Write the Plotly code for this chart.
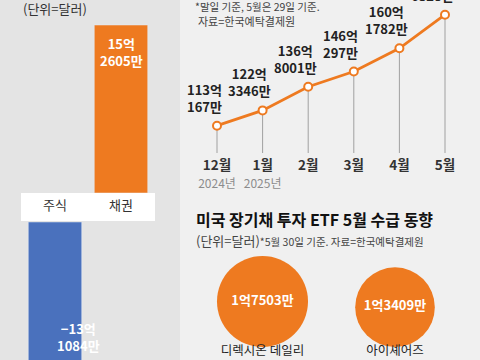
import numpy as np
import plotly.graph_objects as go

# ---------------- data ----------------
flow_cats = ["주식", "채권"]
flow_vals = [-13.1084, 15.2605]            # 억 달러
flow_labels = ["−13억<br>1084만", "15억<br>2605만"]

months = ["12월", "1월", "2월", "3월", "4월", "5월"]
years = ["2024년", "2025년", "", "", "", ""]
holdings = [113.0167, 122.3346, 136.8001, 146.0297, 160.1782, 180.6328]   # 억 달러
holding_labels = ["113억<br>167만", "122억<br>3346만", "136억<br>8001만",
                  "146억<br>297만", "160억<br>1782만", "180억<br>6328만"]

etf_names = ["디렉시온 데일리", "아이셰어즈"]
etf_vals = [1.7503, 1.3409]                 # 억 달러
etf_labels = ["1억7503만", "1억3409만"]

# ---------------- style ----------------
W, H = 480, 360
ORANGE = "#ee7a20"
BLUE = "#4a71bd"
FONT = "Noto Sans CJK KR"
LEFT_BG = "#e4e4e4"
RIGHT_BG = "#f0f0f0"

def fx(p):
    return p / W

def fy(p):
    return 1 - p / H

fig = go.Figure()

# ---- left: bar chart split around the label box ----
bar_scale = 168 / 15.2605
cat_px = 66.0
x_left_range = [-55 / cat_px, (180 - 55) / cat_px]

fig.add_trace(go.Bar(x=[flow_cats[1]], y=[flow_vals[1]], marker_color=ORANGE,
                     width=0.81, xaxis="x", yaxis="y", hoverinfo="skip"))
fig.add_trace(go.Bar(x=[flow_cats[0]], y=[flow_vals[0]], marker_color=BLUE,
                     width=0.81, xaxis="x2", yaxis="y2", hoverinfo="skip"))

# ---- right top: line chart ----
k = 1.641
anchor_v, anchor_px = holdings[0], 125.7
y3_min = anchor_v - (153 - anchor_px) / k
y3_max = anchor_v + anchor_px / k
mpx = 45.6
x3_range = [(180 - 217) / mpx, (480 - 217) / mpx]

fig.add_trace(go.Scatter(
    x=months, y=holdings, mode="lines+markers", xaxis="x3", yaxis="y3",
    line=dict(color=ORANGE, width=2.8),
    marker=dict(symbol="circle", size=8, color="white", line=dict(color=ORANGE, width=2)),
    error_y=dict(type="data", symmetric=False, array=[0] * len(holdings),
                 arrayminus=[v - y3_min for v in holdings],
                 color="#a0a0a0", thickness=1, width=0),
    cliponaxis=False, hoverinfo="skip"))

# ---- right bottom: bubbles ----
D_max = 91
radii = [D_max / 2 * np.sqrt(v / max(etf_vals)) for v in etf_vals]
sizeref = 2 * max(etf_vals) / D_max ** 2
cpx = 132.5
x4_range = [-(262.5 - 180) / cpx, (480 - 262.5) / cpx]
c_bottom = 341
y4_h = c_bottom - 250
fig.add_trace(go.Scatter(
    x=etf_names, y=[r - (347 - c_bottom) for r in radii], mode="markers+text", xaxis="x4", yaxis="y4",
    marker=dict(size=etf_vals, sizemode="area", sizeref=sizeref, color=ORANGE,
                opacity=1, line=dict(width=0)),
    text=etf_labels, textposition="middle center",
    textfont=dict(family=FONT, size=13, color="white", weight=700),
    cliponaxis=False, hoverinfo="skip"))

hidden = dict(showgrid=False, zeroline=False, showline=False, showticklabels=False, ticks="", fixedrange=True)

fig.update_layout(
    width=W, height=H, autosize=False,
    margin=dict(l=0, r=0, t=0, b=0),
    paper_bgcolor=RIGHT_BG, plot_bgcolor="rgba(0,0,0,0)",
    showlegend=False, barmode="overlay", hovermode=False,
    font=dict(family=FONT, color="#333"),
    xaxis=dict(domain=[0, fx(180)], range=x_left_range, type="category",
               categoryorder="array", categoryarray=flow_cats,
               showgrid=False, zeroline=False, showline=False, ticks="",
               showticklabels=True, tickfont=dict(family=FONT, size=13, color="#333"),
               ticklabelstandoff=3, anchor="y"),
    yaxis=dict(domain=[fy(193), 1], range=[0, 193 / bar_scale], anchor="x", **hidden),
    xaxis2=dict(domain=[0, fx(180)], range=x_left_range, type="category",
                categoryorder="array", categoryarray=flow_cats, anchor="y2", **hidden),
    yaxis2=dict(domain=[0, fy(222)], range=[-(H - 222) / bar_scale, 0], anchor="x2", **hidden),
    xaxis3=dict(domain=[fx(180), 1], range=x3_range, type="category", anchor="y3",
                showgrid=False, zeroline=False, showline=False, ticks="",
                tickmode="array", tickvals=months,
                ticktext=[f"<span style='font-size:13.5px'><b>{m}</b></span>"
                          + (f"<br><span style='font-size:12px;color:#8c8c8c'>{y}</span>" if y else "")
                          for m, y in zip(months, years)],
                tickfont=dict(family=FONT, size=14.5, color="#333"), ticklabelstandoff=1),
    yaxis3=dict(domain=[fy(153), 1], range=[y3_min, y3_max], anchor="x3", **hidden),
    xaxis4=dict(domain=[fx(180), 1], range=x4_range, type="category", anchor="y4",
                showgrid=False, zeroline=False, showline=False, ticks="",
                tickfont=dict(family=FONT, size=12.5, color="#222"), ticklabelstandoff=0),
    yaxis4=dict(domain=[fy(c_bottom), fy(250)], range=[0, y4_h], anchor="x4", **hidden),
)

fig.add_shape(type="rect", xref="paper", yref="paper", x0=0, x1=fx(180), y0=0, y1=1,
              fillcolor=LEFT_BG, line_width=0, layer="below")
fig.add_shape(type="rect", xref="paper", yref="paper", x0=fx(21), x1=fx(155), y0=fy(221), y1=fy(193),
              fillcolor="white", line_width=0, layer="below")

ann = []
ann.append(dict(x=flow_cats[1], y=flow_vals[1], xref="x", yref="y", text=flow_labels[1],
                showarrow=False, yanchor="top", yshift=-7,
                font=dict(family=FONT, size=13, color="white", weight=700)))
ann.append(dict(x=fx(55), y=fy(337), xref="paper", yref="paper", text=flow_labels[0],
                showarrow=False, yanchor="middle",
                font=dict(family=FONT, size=13, color="white", weight=700)))
for m, v, t in zip(months, holdings, holding_labels):
    ann.append(dict(x=m, y=v, xref="x3", yref="y3", text=t, showarrow=False,
                    xanchor="center", yanchor="bottom", xshift=-13, yshift=8,
                    font=dict(family=FONT, size=13, color="#222", weight=700)))
ann.append(dict(x=fx(21), y=fy(8), xref="paper", yref="paper", text="(단위=달러)",
                showarrow=False, xanchor="left", yanchor="middle",
                font=dict(family=FONT, size=13, color="#333")))
ann.append(dict(x=fx(193), y=fy(6), xref="paper", yref="paper", text="*말일 기준, 5월은 29일 기준.",
                showarrow=False, xanchor="left", yanchor="middle",
                font=dict(family=FONT, size=10.5, color="#444")))
ann.append(dict(x=fx(196), y=fy(21), xref="paper", yref="paper", text="자료=한국예탁결제원",
                showarrow=False, xanchor="left", yanchor="middle",
                font=dict(family=FONT, size=11, color="#444")))
ann.append(dict(x=fx(194), y=fy(219), xref="paper", yref="paper", text="미국 장기채 투자 ETF 5월 수급 동향",
                showarrow=False, xanchor="left", yanchor="middle",
                font=dict(family=FONT, size=16, color="#111", weight=700)))
ann.append(dict(x=fx(194), y=fy(240), xref="paper", yref="paper",
                text="(단위=달러)<span style='font-size:10.5px'>*5월 30일 기준. 자료=한국예탁결제원</span>",
                showarrow=False, xanchor="left", yanchor="middle",
                font=dict(family=FONT, size=13, color="#444")))
fig.update_layout(annotations=ann)

fig.write_html("out.html", config={"displayModeBar": False},
               post_script=("document.documentElement.style.margin='0';"
                            "document.body.style.margin='0';document.body.style.padding='0';"
                            "document.querySelectorAll('.plotly-graph-div, .svg-container')"
                            ".forEach(function(e){e.style.overflow='hidden';});"))
